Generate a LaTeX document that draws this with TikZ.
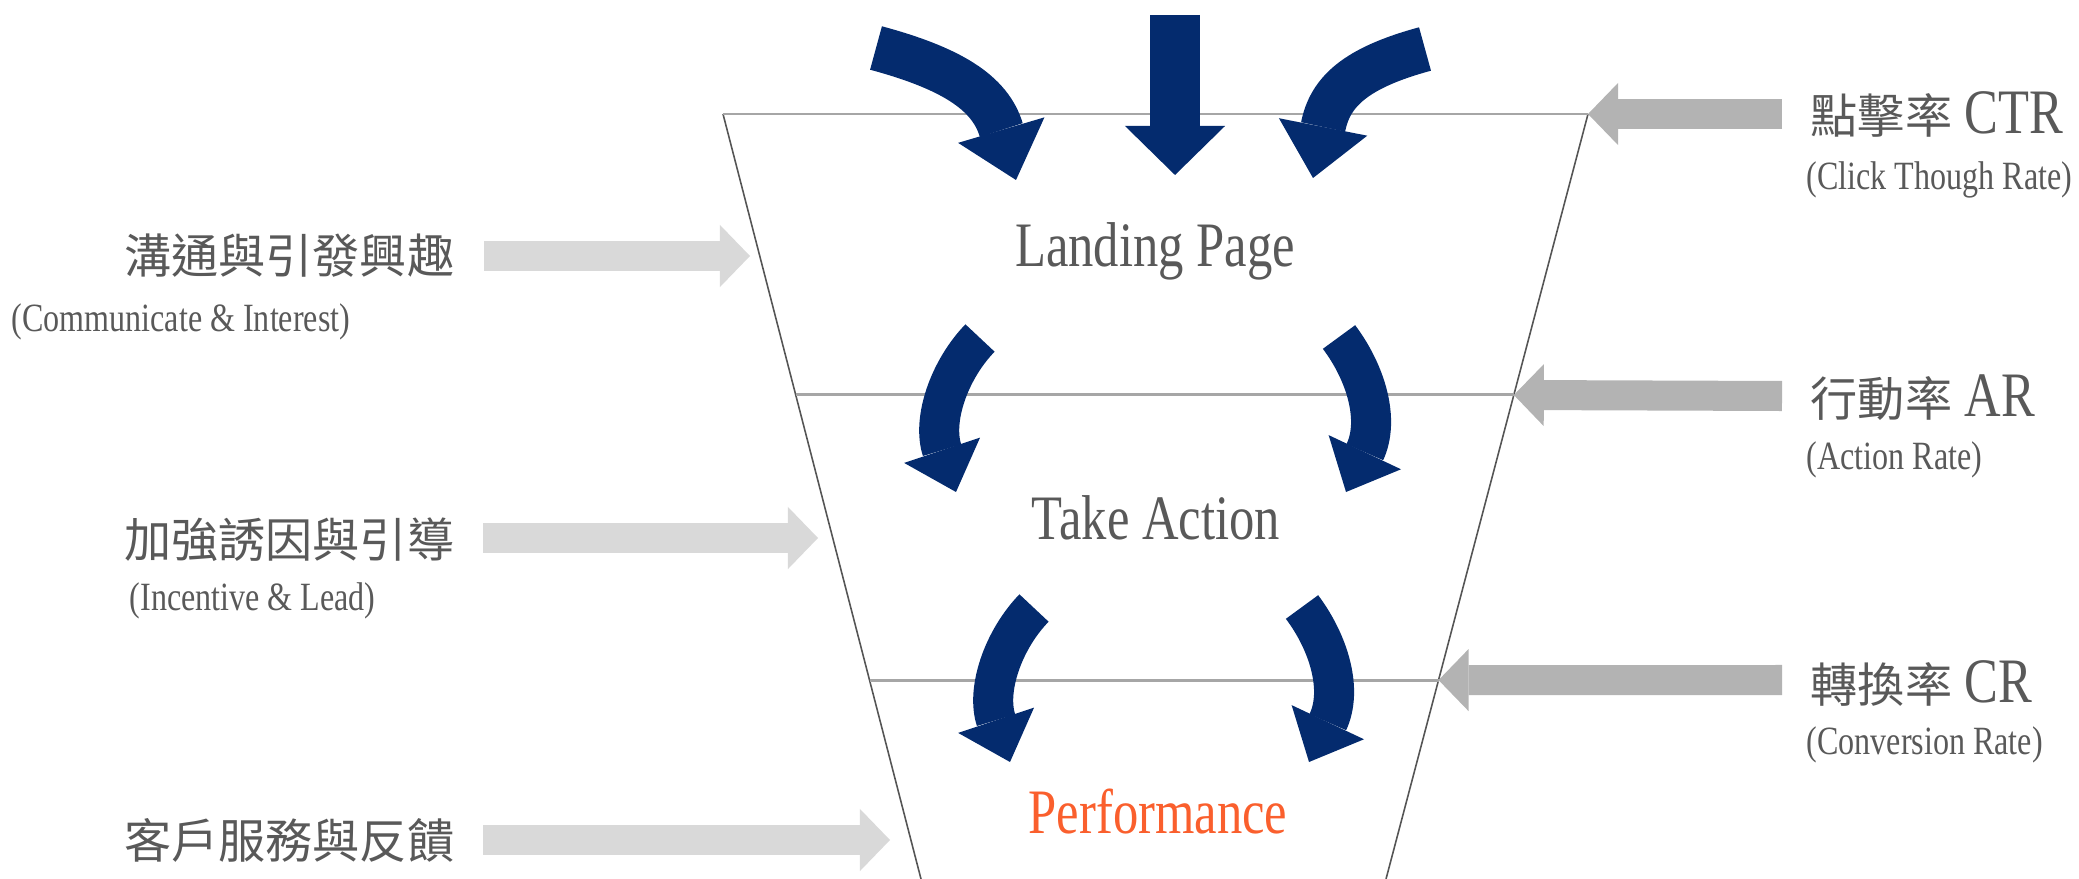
\documentclass[tikz,border=0pt]{standalone}
\usepackage{fontspec}
\setmainfont[FakeStretch=0.8]{Liberation Serif}
\newfontfamily\cjk[Scale=0.745]{Noto Sans CJK TC}
\usetikzlibrary{arrows.meta,calc,positioning}
\definecolor{navy}{RGB}{4,43,110}
\definecolor{txtgray}{RGB}{89,89,89}
\definecolor{linegray}{RGB}{166,166,166}
\definecolor{edgegray}{RGB}{85,85,85}
\definecolor{lightarrow}{RGB}{217,217,217}
\definecolor{darkarrow}{RGB}{179,179,179}
\definecolor{perfred}{RGB}{250,95,45}
\tikzset{
    stage/.style={
           font=\fontsize{18}{22}\selectfont,
           text=txtgray,
           inner sep=0pt,
           },
}
\tikzset{
    sub/.style={
           font=\fontsize{11.4}{14}\selectfont,
           text=txtgray,
           inner sep=0pt,
           anchor=west,
           },
}
\tikzset{
    inarrow/.style={
           draw=lightarrow, line width=0.3cm,
           -{Triangle[length=0.3cm,width=0.62cm,line width=0pt]},
           },
    ratearrow/.style={
           draw=darkarrow, line width=0.3cm,
           -{Triangle[length=0.3cm,width=0.62cm,line width=0pt]},
           },
    flowbig/.style={
           draw=navy, line width=0.45cm,
           -{Triangle[length=0.52cm,width=0.9cm,line width=0pt]},
           },
    flowsmall/.style={
           draw=navy, line width=0.4cm,
           -{Triangle[length=0.44cm,width=0.8cm,line width=0pt]},
           },
    flowdown/.style={
           draw=navy, line width=0.5cm,
           -{Triangle[length=0.49cm,width=1.0cm,line width=0pt]},
           },
}

\begin{document}
\begin{tikzpicture}[x=0.01cm,y=-0.01cm]
\useasboundingbox (0,0) rectangle (2079,879);
% funnel
\coordinate (tl) at (723,114);
\coordinate (tr) at (1588,114);
\coordinate (bl) at (921,879);
\coordinate (br) at (1386,879);
\coordinate (m2l) at ($(tl)!0.3673!(bl)$);
\coordinate (m2r) at ($(tr)!0.3673!(br)$);
\coordinate (m3l) at ($(tl)!0.74!(bl)$);
\coordinate (m3r) at ($(tr)!0.74!(br)$);
\draw[edgegray,line width=0.45pt] (tl) -- (bl) (tr) -- (br);
\draw[linegray,line width=0.85pt] (tl) -- (tr) (m2l) -- (m2r) (m3l) -- (m3r);

\node[stage] (land) at (1155,251) {Landing Page};
\node[stage] (act) at (1156,518) {Take Action};
\node[stage,text=perfred] (perf) at (1158,812) {Performance};

\node[stage,anchor=east] (lab1) at (455,256) {\cjk 溝通與引發興趣};
\node[sub] (sub1) at (11,322) {(Communicate \& Interest)};
\node[stage,anchor=east] (lab2) at (455,540) {\cjk 加強誘因與引導};
\node[sub] (sub2) at (129,601) {(Incentive \& Lead)};
\node[stage,anchor=east] (lab3) at (455,840) {\cjk 客戶服務與反饋};

\node[stage,anchor=west] (ctr) at (1810,114) {{\cjk 點擊率} CTR};
\node[sub] (subctr) at (1806,180) {(Click Though Rate)};
\node[stage,anchor=west] (ar) at (1810,398) {{\cjk 行動率} AR};
\node[sub] (subar) at (1806,460) {(Action Rate)};
\node[stage,anchor=west] (cr) at (1810,683) {{\cjk 轉換率} CR};
\node[sub] (subcr) at (1806,745) {(Conversion Rate)};

% gray arrows
\coordinate (in1) at (750,256);
\coordinate (in2) at (818,538);
\coordinate (in3) at (890,840);
\draw[inarrow] (lab1.east -| 484,0) -- (in1);
\draw[inarrow] (483,538) -- (in2);
\draw[inarrow] (483,840) -- (in3);
\draw[ratearrow] (1782,114) -- (tr);
\draw[ratearrow] (1782,396) -- (m2r);
\draw[ratearrow] (1782,680) -- (m3r);

% blue arrows
\coordinate (t1) at (876,48);
\coordinate (t2) at (1175,15);
\coordinate (t3) at (1425,49);
\draw[flowbig] (t1) .. controls (950,68) and (990,92) .. (1016,180);
\draw[flowdown] (t2) -- (1175,175);
\draw[flowbig] (t3) .. controls (1355,68) and (1330,92) .. (1313,178);
\draw[flowsmall] (980,338) .. controls (949,370) and (932,420) .. (956,492);
\draw[flowsmall] (1339,337) .. controls (1366,373) and (1380,420) .. (1346,492);
\draw[flowsmall] (1034,608) .. controls (1003,640) and (986,690) .. (1010,762);
\draw[flowsmall] (1302,607) .. controls (1329,643) and (1343,690) .. (1309,762);
\end{tikzpicture}
\end{document}
